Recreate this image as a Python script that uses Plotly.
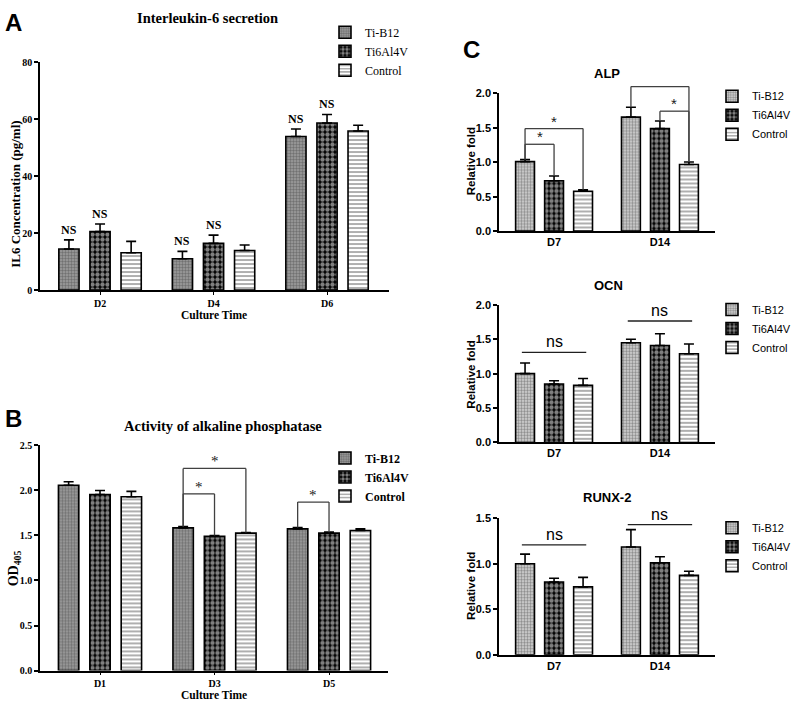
import plotly.graph_objects as go

W, H = 796, 708
groups = ['Ti-B12', 'Ti6Al4V', 'Control']

# A - IL-6 secretion (pg/ml)
il6_days = ['D2', 'D4', 'D6']
il6_tib12 = [14.4, 11.0, 53.9]
il6_tib12_sd = [3.2, 2.6, 2.6]
il6_ti64 = [20.5, 16.4, 58.6]
il6_ti64_sd = [2.7, 2.9, 3.0]
il6_ctrl = [13.1, 13.9, 55.8]
il6_ctrl_sd = [4.0, 1.9, 2.0]

# B - alkaline phosphatase activity (OD405)
od_days = ['D1', 'D3', 'D5']
od_tib12 = [2.057, 1.584, 1.573]
od_tib12_sd = [0.04, 0.016, 0.015]
od_ti64 = [1.955, 1.49, 1.526]
od_ti64_sd = [0.044, 0.01, 0.011]
od_ctrl = [1.93, 1.526, 1.555]
od_ctrl_sd = [0.06, 0.007, 0.018]

# C - relative gene expression
pcr_days = ['D7', 'D14']
alp_tib12 = [1.01, 1.657]
alp_tib12_sd = [0.03, 0.143]
alp_ti64 = [0.733, 1.49]
alp_ti64_sd = [0.067, 0.11]
alp_ctrl = [0.58, 0.967]
alp_ctrl_sd = [0.02, 0.038]
ocn_tib12 = [1.0, 1.45]
ocn_tib12_sd = [0.155, 0.05]
ocn_ti64 = [0.85, 1.41]
ocn_ti64_sd = [0.047, 0.17]
ocn_ctrl = [0.83, 1.29]
ocn_ctrl_sd = [0.10, 0.14]
runx_tib12 = [1.0, 1.184]
runx_tib12_sd = [0.105, 0.19]
runx_ti64 = [0.8, 1.01]
runx_ti64_sd = [0.04, 0.066]
runx_ctrl = [0.746, 0.872]
runx_ctrl_sd = [0.104, 0.046]

# significance marks: (day, bar a, bar b, bracket level)
od_sig = [(1, 0, 2, 2.245), (1, 0, 1, 1.962), (2, 0, 1, 1.871)]
alp_sig = [(0, 0, 2, 1.49), (0, 0, 1, 1.262), (1, 0, 2, 2.1), (1, 1, 2, 1.743)]
ocn_ns = [(0, 1.31), (1, 1.765)]
runx_ns = [(0, 1.206), (1, 1.43)]

SERIF = 'Liberation Serif'
SANS = 'Liberation Sans'
BARGAP = 0.178
SLOT = (1 - BARGAP) / 3


def px_x(v):
    return v / W


def px_y(v):
    return 1 - v / H


panels = [
    dict(xa='x', ya='y', days=il6_days, ymax=80, dtick=20, xr=[-0.529, 2.546],
         xd=[40, 389], yd=[289, 57], font=SERIF, fs=10, legend='legend', xticks=True,
         data=[(il6_tib12, il6_tib12_sd), (il6_ti64, il6_ti64_sd), (il6_ctrl, il6_ctrl_sd)],
         tib_bg='#a0a0a0', fmt='d'),
    dict(xa='x2', ya='y2', days=od_days, ymax=2.5, dtick=0.5, xr=[-0.524, 2.515],
         xd=[40, 388], yd=[676, 447], font=SERIF, fs=10, legend='legend2', xticks=True,
         data=[(od_tib12, od_tib12_sd), (od_ti64, od_ti64_sd), (od_ctrl, od_ctrl_sd)],
         tib_bg='#a0a0a0', fmt='.1f'),
    dict(xa='x3', ya='y3', days=pcr_days, ymax=2.0, dtick=0.5, xr=[-0.52, 1.52],
         xd=[499, 715], yd=[229, 89], font=SANS, fs=11, legend='legend3', xticks=False,
         data=[(alp_tib12, alp_tib12_sd), (alp_ti64, alp_ti64_sd), (alp_ctrl, alp_ctrl_sd)],
         tib_bg='#d8d8d8', fmt='.1f'),
    dict(xa='x4', ya='y4', days=pcr_days, ymax=2.0, dtick=0.5, xr=[-0.52, 1.52],
         xd=[499, 715], yd=[444, 304], font=SANS, fs=11, legend='legend4', xticks=False,
         data=[(ocn_tib12, ocn_tib12_sd), (ocn_ti64, ocn_ti64_sd), (ocn_ctrl, ocn_ctrl_sd)],
         tib_bg='#d8d8d8', fmt='.1f'),
    dict(xa='x5', ya='y5', days=pcr_days, ymax=1.5, dtick=0.5, xr=[-0.52, 1.52],
         xd=[499, 715], yd=[660, 521], font=SANS, fs=11, legend='legend5', xticks=False,
         data=[(runx_tib12, runx_tib12_sd), (runx_ti64, runx_ti64_sd), (runx_ctrl, runx_ctrl_sd)],
         tib_bg='#d8d8d8', fmt='.1f'),
]

fig = go.Figure()
layout = dict(width=W, height=H, margin=dict(l=0, r=0, t=0, b=0), autosize=False,
              plot_bgcolor='white', paper_bgcolor='white', barmode='group',
              bargap=BARGAP, bargroupgap=0.35, showlegend=True)
shapes = []
annotations = []

for p in panels:
    patterns = [
        dict(shape='.', fgcolor='#404040', bgcolor=p['tib_bg'], size=3, solidity=0.5),
        dict(shape='.', fgcolor='white', bgcolor='black', size=5, solidity=0.6),
        dict(shape='-', fgcolor='#606060', bgcolor='white', size=4, solidity=0.5),
    ]
    for k, (vals, sd) in enumerate(p['data']):
        fig.add_trace(go.Bar(
            x=list(range(len(p['days']))), y=vals, name=groups[k],
            xaxis=p['xa'], yaxis=p['ya'], legend=p['legend'],
            marker=dict(color='white', pattern=patterns[k], line=dict(color='black', width=1.6)),
            error_y=dict(type='data', array=sd, arrayminus=[0] * len(sd), symmetric=False,
                         color='black', thickness=1.6, width=5),
        ))
    xkey = 'xaxis' + p['xa'][1:]
    ykey = 'yaxis' + p['ya'][1:]
    layout[xkey] = dict(domain=[px_x(p['xd'][0]), px_x(p['xd'][1])], anchor=p['ya'],
                        range=p['xr'], tickvals=list(range(len(p['days']))), ticktext=p['days'],
                        showline=True, linecolor='black', linewidth=1.6,
                        ticks='outside' if p['xticks'] else '', ticklen=3, tickwidth=1.2,
                        tickcolor='black', showgrid=False, zeroline=False,
                        tickfont=dict(family=p['font'], size=p['fs'], color='black', weight='bold'))
    layout[ykey] = dict(domain=[px_y(p['yd'][0]), px_y(p['yd'][1])], anchor=p['xa'],
                        range=[0, p['ymax']], dtick=p['dtick'], tickformat=p['fmt'],
                        showline=True, linecolor='black', linewidth=1.6, ticks='outside',
                        ticklen=4, tickwidth=1.5, tickcolor='black', showgrid=False, zeroline=False,
                        tickfont=dict(family=p['font'], size=p['fs'], color='black', weight='bold'))


def center(day, k):
    return day + (k - 1) * SLOT


def hline(p, x0, x1, y0, y1, color):
    xr = p['xr']
    fx = lambda v: (v - xr[0]) / (xr[1] - xr[0])
    fy = lambda v: v / p['ymax']
    shapes.append(dict(type='line', xref=p['xa'] + ' domain', yref=p['ya'] + ' domain',
                       x0=fx(x0), x1=fx(x1), y0=fy(y0), y1=fy(y1),
                       line=dict(color=color, width=1.3)))


def brackets(p, sig, font, size):
    for day, a, b, level in sig:
        xa_, xb_ = center(day, a), center(day, b)
        top_a = p['data'][a][0][day] + p['data'][a][1][day]
        top_b = p['data'][b][0][day] + p['data'][b][1][day]
        hline(p, xa_, xa_, top_a, level, '#404040')
        hline(p, xa_, xb_, level, level, '#404040')
        hline(p, xb_, xb_, level, top_b, '#404040')
        annotations.append(dict(xref=p['xa'], yref=p['ya'], x=(xa_ + xb_) / 2, y=level,
                                text='*', showarrow=False, yanchor='bottom', yshift=-3,
                                font=dict(family=font, size=size, color='#202020')))


def ns_lines(p, marks):
    for day, level in marks:
        hline(p, center(day, 0) - 0.03, center(day, 2) + 0.03, level, level, '#202020')
        annotations.append(dict(xref=p['xa'], yref=p['ya'], x=day, y=level,
                                text='ns', showarrow=False, yanchor='bottom', yshift=0,
                                font=dict(family=SANS, size=16, color='black')))


# NS labels above Ti-B12 and Ti6Al4V bars in panel A
pa = panels[0]
for k in (0, 1):
    for day in range(3):
        annotations.append(dict(xref='x', yref='y', x=center(day, k),
                                y=pa['data'][k][0][day] + pa['data'][k][1][day],
                                text='NS', showarrow=False, yanchor='bottom', yshift=1,
                                font=dict(family=SERIF, size=12, color='black', weight='bold')))

brackets(panels[1], od_sig, SERIF, 15)
brackets(panels[2], alp_sig, SANS, 15)
ns_lines(panels[3], ocn_ns)
ns_lines(panels[4], runx_ns)


def text(x, y, s, family, size, bold=True, angle=0):
    annotations.append(dict(xref='paper', yref='paper', x=px_x(x), y=px_y(y), text=s,
                            showarrow=False, xanchor='center', yanchor='middle', textangle=angle,
                            font=dict(family=family, size=size, color='black',
                                      weight='bold' if bold else 'normal')))


# panel letters
text(13, 17, 'A', SANS, 24)
text(13, 420, 'B', SANS, 24)
text(471, 44, 'C', SANS, 24)
# titles
text(207, 12, 'Interleukin-6 secretion', SERIF, 14.5)
text(223, 427, 'Activity of alkaline phosphatase', SERIF, 14.5)
text(607, 69, 'ALP', SANS, 13)
text(608, 284, 'OCN', SANS, 13)
text(607, 500, 'RUNX-2', SANS, 13)
# axis titles
text(16, 192, 'IL6 Concentration (pg/ml)', SERIF, 13, angle=-90)
text(214, 314, 'Culture Time', SERIF, 11.5)
text(14, 572, 'OD<sub>405</sub>', SERIF, 14, angle=-90)
text(214, 701, 'Culture Time', SERIF, 11.5)
text(471, 158, 'Relative fold', SANS, 11.5, angle=-90)
text(471, 375, 'Relative fold', SANS, 11.5, angle=-90)
text(471, 590, 'Relative fold', SANS, 11.5, angle=-90)

legend_pos = {
    'legend': (325, 12, SERIF, False, 12),
    'legend2': (325, 445, SERIF, True, 12),
    'legend3': (712, 77, SANS, False, 11),
    'legend4': (712, 294, SANS, False, 11),
    'legend5': (712, 516, SANS, False, 11),
}
for key, (lx, ly, fam, bold, fs) in legend_pos.items():
    layout[key] = dict(x=px_x(lx), y=px_y(ly), xanchor='left', yanchor='top',
                       bgcolor='rgba(0,0,0,0)', tracegroupgap=0,
                       font=dict(family=fam, size=fs, color='black',
                                 weight='bold' if bold else 'normal'))

layout['shapes'] = shapes
layout['annotations'] = annotations
fig.update_layout(**layout)
# page body has a default 8px margin; drop it so the figure fills the window
fig.write_html("out.html", config={'displayModeBar': False},
               post_script="document.body.style.margin='0';")
